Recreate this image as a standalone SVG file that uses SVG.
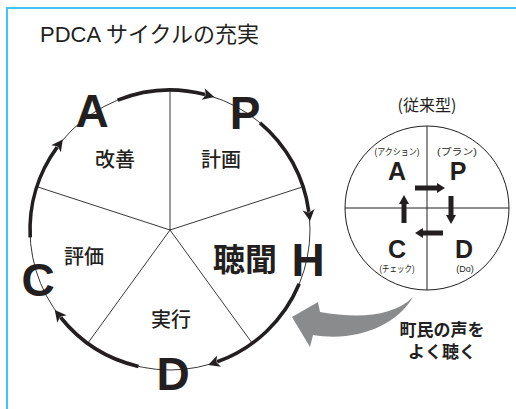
<svg xmlns="http://www.w3.org/2000/svg" width="516" height="409" viewBox="0 0 516 409">
<style>
.thin{fill:none;stroke:#231f20;stroke-width:0.9}
.thick{fill:none;stroke:#231f20;stroke-width:3.6;marker-end:url(#ah)}
.big{font-family:"Liberation Sans",Arial,sans-serif;font-weight:bold;font-size:46px;fill:#231f20;text-anchor:middle}
.sm{font-family:"Liberation Sans",Arial,sans-serif;font-weight:bold;font-size:25px;fill:#231f20;text-anchor:middle}
.lbl{font-family:"Noto Sans CJK JP",sans-serif;font-weight:500;font-size:20px;fill:#231f20;text-anchor:middle}
.tiny{font-family:"Liberation Sans","Noto Sans CJK JP",sans-serif;font-size:9px;fill:#231f20;text-anchor:middle}
.blk{fill:#231f20}
</style>
<defs>
<marker id="ah" markerUnits="userSpaceOnUse" viewBox="-10 -10 20 20" markerWidth="20" markerHeight="20" refX="0" refY="0" orient="auto" overflow="visible">
<path d="M 9.5,0 L -2,-6 L 1,0 L -2,6 Z" fill="#231f20"/>
</marker>
</defs>
<rect width="516" height="409" fill="#ffffff"/>
<path d="M 516,8 H 7 V 409" fill="none" stroke="#3ec6f0" stroke-width="2"/>
<text x="40" y="42" font-family="'Liberation Sans','Noto Sans CJK JP',sans-serif" font-size="22" fill="#231f20">PDCA サイクルの充実</text>

<g id="connectors">
<circle class="thin" cx="170" cy="230" r="140"/>
<path class="thin" d="M170,230 L170,90 M170,230 L303.2,186.7 M170,230 L252.3,343.3 M170,230 L87.7,343.3 M170,230 L36.9,186.7"/>
<path class="thick" d="M117.6,100.2 A140,140 0 0 1 205.1,94.5"/>
<path class="thick" d="M260,122.8 A140,140 0 0 1 308.8,211.7"/>
<path class="thick" d="M299.2,283.8 A140,140 0 0 1 217.2,361.8"/>
<path class="thick" d="M138.5,366.4 A140,140 0 0 1 60.7,317.5"/>
<path class="thick" d="M30.2,237.3 A140,140 0 0 1 57.2,147.1"/>
</g>

<g id="node-A"><text class="big" x="92" y="127">A</text><text class="lbl" x="115" y="167">改善</text></g>
<g id="node-P"><text class="big" x="245" y="129">P</text><text class="lbl" x="221" y="167">計画</text></g>
<g id="node-H"><text class="big" x="308" y="276">H</text><text x="245" y="271" font-family="'Noto Sans CJK JP',sans-serif" font-weight="bold" font-size="32" fill="#231f20" text-anchor="middle">聴聞</text></g>
<g id="node-D"><text class="big" x="173" y="390">D</text><text class="lbl" x="171" y="327">実行</text></g>
<g id="node-C"><text class="big" x="38" y="296">C</text><text class="lbl" x="84" y="264">評価</text></g>

<g id="traditional">
<text x="427" y="111" font-family="'Noto Sans CJK JP',sans-serif" font-size="16" fill="#231f20" text-anchor="middle">(従来型)</text>
<circle cx="427" cy="208" r="82" fill="none" stroke="#231f20" stroke-width="1"/>
<path d="M427,126 V290 M345,208 H509" fill="none" stroke="#231f20" stroke-width="1"/>
<text class="tiny" x="397" y="155" textLength="45" lengthAdjust="spacingAndGlyphs">(アクション)</text>
<text class="tiny" x="457" y="155" textLength="40" lengthAdjust="spacingAndGlyphs">(プラン)</text>
<text class="tiny" x="397" y="272" textLength="35" lengthAdjust="spacingAndGlyphs">(チェック)</text>
<text class="tiny" x="465" y="272" font-size="10">(Do)</text>
<text class="sm" x="397" y="180">A</text>
<text class="sm" x="458" y="180">P</text>
<text class="sm" x="397" y="258">C</text>
<text class="sm" x="464" y="258">D</text>
<path class="blk" d="M415,185.5 H437 V183 L445,188 L437,193 V190.5 H415 Z"/>
<path class="blk" d="M448.5,196 V215 H446 L451,224 L456,215 H453.5 V196 Z"/>
<path class="blk" d="M443,230.5 H423 V228 L415,233 L423,238 V235.5 H443 Z"/>
<path class="blk" d="M401.5,223 V204 H399 L404,195 L409,204 H406.5 V223 Z"/>
</g>

<g id="listen">
<path d="M413,297 C392,318 355,318 320,312 L318,302 L292,317 L310,347 L313,335 C356,342 396,326 413,297 Z" fill="#8a8b8d"/>
<text font-family="'Noto Sans CJK JP',sans-serif" font-weight="bold" font-size="17" fill="#231f20" text-anchor="middle"><tspan x="442" y="336">町民の声を</tspan><tspan x="442" y="358">よく聴く</tspan></text>
</g>
</svg>
